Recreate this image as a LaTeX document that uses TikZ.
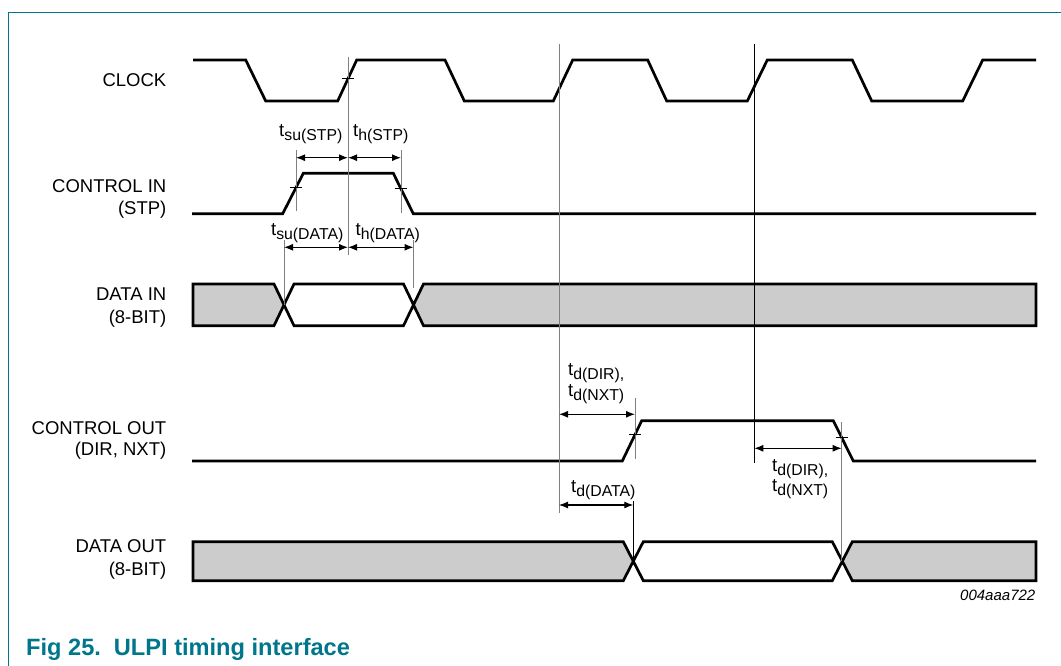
\documentclass[tikz,border=0pt]{standalone}
\usepackage{fontspec}
\setmainfont{Liberation Sans}
\usetikzlibrary{arrows.meta}
\usetikzlibrary{calc, positioning}
\definecolor{nxpteal}{RGB}{0,118,140}
\definecolor{busgray}{RGB}{204,204,204}
\tikzset{
    wave/.style={line width=2.7pt, black},
    busfill/.style={fill=busgray, draw=none},
    guideG/.style={line width=1pt, black!50},
    guideK/.style={line width=0.8pt, black},
    tickK/.style={line width=0.8pt, black},
    dimA/.style={line width=1.1pt, black, {Latex[length=9pt,width=7pt]}-{Latex[length=9pt,width=7pt]}},
    sigName/.style={anchor=base east, inner sep=0pt, font=\fontsize{18.5}{21}\selectfont},
    tName/.style={inner sep=0pt, font=\fontsize{18.5}{21}\selectfont}
}
\newcommand{\tsubs}[1]{t\raisebox{-4pt}{\fontsize{15.8}{17}\selectfont #1}}

\begin{document}
\begin{tikzpicture}[x=1pt, y=-1pt]
    \useasboundingbox (0,0) rectangle (1061,666);
    \draw[nxpteal, line width=1pt] (8.5,666) -- (8.5,12.5) -- (1061,12.5);
    % signal names
    \node[sigName] (nClk) at (166.5,86.6) {CLOCK};
    \node[sigName] (nCinA) at (166.5,192.5) {CONTROL IN};
    \node[sigName] (nCinB) at (166.5,214.2) {(STP)};
    \node[sigName] (nDinA) at (166.5,300.7) {DATA IN};
    \node[sigName] (nDinB) at (166.5,323.3) {(8-BIT)};
    \node[sigName] (nCoutA) at (166.5,434.3) {CONTROL OUT};
    \node[sigName] (nCoutB) at (166.5,455.7) {(DIR, NXT)};
    \node[sigName] (nDoutA) at (166.5,552.7) {DATA OUT};
    \node[sigName] (nDoutB) at (166.5,575) {(8-BIT)};
    % waveforms
    \draw[wave] (193,60) -- (245.7,60) -- (265.7,101) -- (337.7,101) -- (356.7,60) -- (445,60)
        -- (464.3,101) -- (553.3,101) -- (572.7,60) -- (647.7,60) -- (666.7,101) -- (747.3,101)
        -- (767.3,60) -- (852.3,60) -- (871.7,101) -- (962.7,101) -- (982.7,60) -- (1036,60);
    \draw[wave] (192,213.7) -- (282.7,213.7) -- (303.3,173.3) -- (393.3,173.3) -- (413.3,213.7) -- (1036,213.7);
    \draw[wave] (192,461) -- (622.3,461) -- (641.7,420.7) -- (833.3,420.7) -- (853.3,461) -- (1036,461);
    \fill[busfill] (193,284) -- (274,284) -- (284,305) -- (274,325.7) -- (193,325.7) -- cycle;
    \fill[busfill] (1036,284) -- (423.5,284) -- (413.5,305) -- (423.5,325.7) -- (1036,325.7) -- cycle;
    \draw[wave] (193,325.7) -- (193,284) -- (274,284) -- (294,325.7) -- (403.5,325.7) -- (423.5,284)
        -- (1036,284) -- (1036,325.7) -- (423.5,325.7) -- (403.5,284) -- (294,284) -- (274,325.7) -- cycle;
    \fill[busfill] (193,541.7) -- (623.3,541.7) -- (633.3,561.2) -- (623.3,580.7) -- (193,580.7) -- cycle;
    \fill[busfill] (1036,541.7) -- (852.3,541.7) -- (842.3,561.2) -- (852.3,580.7) -- (1036,580.7) -- cycle;
    \draw[wave] (193,580.7) -- (193,541.7) -- (623.3,541.7) -- (643.3,580.7) -- (832.3,580.7) -- (852.3,541.7)
        -- (1036,541.7) -- (1036,580.7) -- (852.3,580.7) -- (832.3,541.7) -- (643.3,541.7) -- (623.3,580.7) -- cycle;
    % guide lines
    \coordinate (g1a) at (348,57);     \coordinate (g1b) at (348,255);
    \coordinate (g2a) at (296,150);    \coordinate (g2b) at (296,211);
    \coordinate (g3a) at (401,150);    \coordinate (g3b) at (401,213);
    \coordinate (g4a) at (284,240);    \coordinate (g4b) at (284,305);
    \coordinate (g5a) at (413.5,240);  \coordinate (g5b) at (413.5,288);
    \coordinate (g6a) at (559,44);     \coordinate (g6b) at (559,513);
    \coordinate (g7a) at (754.3,44);   \coordinate (g7b) at (754.3,463);
    \coordinate (g8a) at (635,398);    \coordinate (g8b) at (635,459);
    \coordinate (g9a) at (633.3,501);  \coordinate (g9b) at (633.3,561);
    \coordinate (g10a) at (841.7,421.7); \coordinate (g10b) at (841.7,561);
    \draw[guideG] (g1a) -- (g1b);
    \draw[guideG] (g2a) -- (g2b);
    \draw[guideG] (g3a) -- (g3b);
    \draw[guideG] (g4a) -- (g4b);
    \draw[guideG] (g5a) -- (g5b);
    \draw[guideG] (g6a) -- (g6b);
    \draw[guideK] (g7a) -- (g7b);
    \draw[guideG] (g8a) -- (g8b);
    \draw[guideK] (g9a) -- (g9b);
    \draw[guideG] (g10a) -- (g10b);
    % crossing ticks
    \coordinate (tk1) at (348,78.8);
    \coordinate (tk2) at (296,187.6);
    \coordinate (tk3) at (401,188.9);
    \coordinate (tk4) at (635,434.6);
    \coordinate (tk5) at (841.7,437.6);
    \draw[tickK] (tk1) ++(-6,0) -- ++(12,0);
    \draw[tickK] (tk2) ++(-6,0) -- ++(12,0);
    \draw[tickK] (tk3) ++(-6,0) -- ++(12,0);
    \draw[tickK] (tk4) ++(-6,0) -- ++(12,0);
    \draw[tickK] (tk5) ++(-6,0) -- ++(12,0);
    % timing arrows
    \coordinate (suS1) at (296,157.7);  \coordinate (suS2) at (348,157.7);  \coordinate (hS2) at (401,157.7);
    \coordinate (suD1) at (284,247.3);  \coordinate (suD2) at (348,247.3);  \coordinate (hD2) at (413.5,247.3);
    \coordinate (dC1) at (559,414.3);   \coordinate (dC2) at (635,414.3);
    \coordinate (dR1) at (754.3,448.3); \coordinate (dR2) at (841.7,448.3);
    \coordinate (dD1) at (559,505);     \coordinate (dD2) at (633.3,505);
    \draw[dimA] (suS1) -- (suS2);
    \draw[dimA] (suS2) -- (hS2);
    \draw[dimA] (suD1) -- (suD2);
    \draw[dimA] (suD2) -- (hD2);
    \draw[dimA] (dC1) -- (dC2);
    \draw[dimA] (dR1) -- (dR2);
    \draw[dimA] (dD1) -- (dD2);
    % timing labels
    \node[tName, anchor=base east] (tsuSTP) at (342.5,136.7) {\tsubs{su(STP)}};
    \node[tName, anchor=base west] (thSTP) at (353,136.7) {\tsubs{h(STP)}};
    \node[tName, anchor=base east] (tsuDATA) at (343.5,235) {\tsubs{su(DATA)}};
    \node[tName, anchor=base west] (thDATA) at (355.5,235) {\tsubs{h(DATA)}};
    \node[tName, anchor=base west] (tdDIRa) at (568,375.3) {\tsubs{d(DIR),}};
    \node[tName, anchor=base west] (tdNXTa) at (568,396) {\tsubs{d(NXT)}};
    \node[tName, anchor=base west] (tdDATA) at (571,492.7) {\tsubs{d(DATA)}};
    \node[tName, anchor=base west] (tdDIRb) at (772,471) {\tsubs{d(DIR),}};
    \node[tName, anchor=base west] (tdNXTb) at (772,491.7) {\tsubs{d(NXT)}};
    % caption
    \node[anchor=base east, inner sep=0pt, font=\fontsize{15}{17}\selectfont\itshape] (docNo) at (1035.5,600) {004aaa722};
    \node[anchor=base west, inner sep=0pt, text=nxpteal, font=\fontsize{23.6}{26}\selectfont\bfseries] (figCap) at (26,655.5) {Fig 25.\hspace{13pt}ULPI timing interface};
\end{tikzpicture}
\end{document}
